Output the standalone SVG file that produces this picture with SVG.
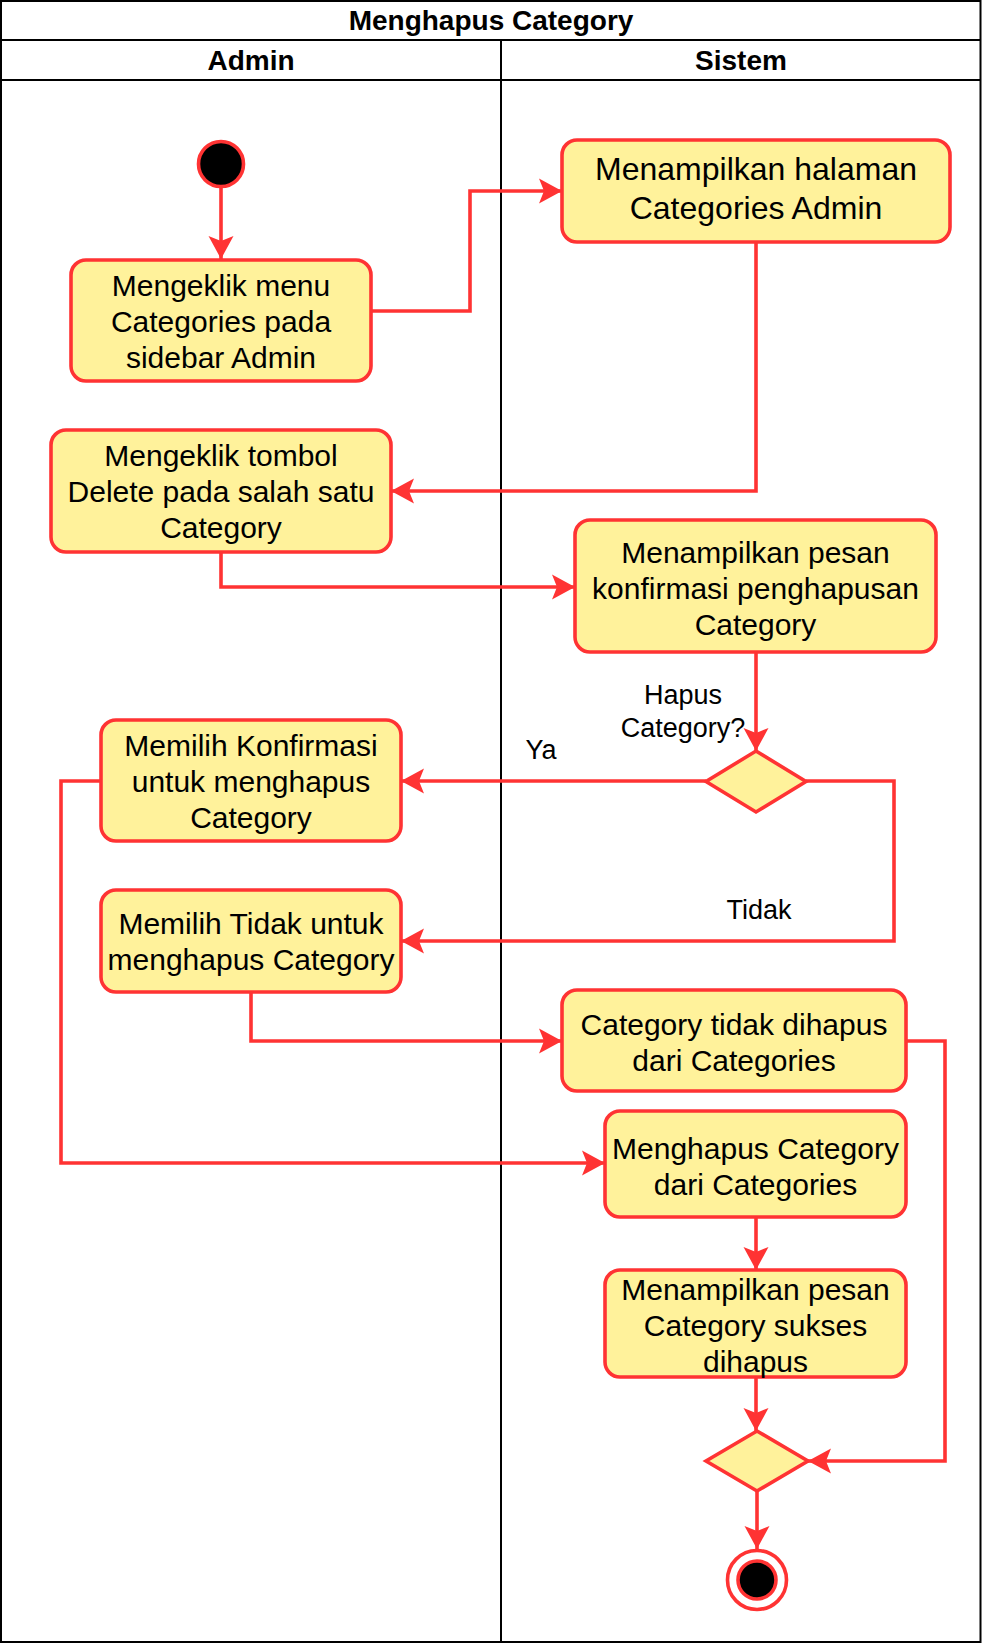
<svg xmlns="http://www.w3.org/2000/svg" width="982" height="1644" viewBox="0 0 982 1644">
<style>
.lane{fill:none;stroke:#000;stroke-width:2}
.hdr{font-family:"Liberation Sans",Arial,sans-serif;font-weight:bold;font-size:28px;text-anchor:middle;fill:#000}
.box{fill:#FFF29B;stroke:#FF3333;stroke-width:3.6}
.t{font-family:"Liberation Sans",Arial,sans-serif;font-size:30px;text-anchor:middle;fill:#000}
.t2{font-family:"Liberation Sans",Arial,sans-serif;font-size:32px;text-anchor:middle;fill:#000}
.lbl{font-family:"Liberation Sans",Arial,sans-serif;font-size:27px;text-anchor:middle;fill:#000}
.c{fill:none;stroke:#FF3333;stroke-width:3.6}
</style>
<defs>
<marker id="arr" markerUnits="userSpaceOnUse" viewBox="-24 -13 25 26" refX="0" refY="0" markerWidth="25" markerHeight="26" orient="auto">
<path d="M0,0 L-23,-12.5 L-18,0 L-23,12.5 Z" fill="#FF3333"/>
</marker>
</defs>
<rect width="982" height="1644" fill="#fff"/>
<g id="pool">
<rect class="lane" x="1" y="1" width="979.5" height="1641"/>
<line class="lane" x1="1" y1="40" x2="980.5" y2="40"/>
<line class="lane" x1="1" y1="80" x2="980.5" y2="80"/>
<line class="lane" x1="501" y1="40" x2="501" y2="1642"/>
<text class="hdr" x="491" y="30">Menghapus Category</text>
<text class="hdr" x="251" y="70">Admin</text>
<text class="hdr" x="741" y="70">Sistem</text>
</g>
<g id="connectors">
<path class="c" d="M221,188 L221,259" marker-end="url(#arr)"/>
<path class="c" d="M371,311 L470,311 L470,191 L562,191" marker-end="url(#arr)"/>
<path class="c" d="M756,242 L756,491 L391,491" marker-end="url(#arr)"/>
<path class="c" d="M221,552 L221,587 L575,587" marker-end="url(#arr)"/>
<path class="c" d="M756,652 L756,751" marker-end="url(#arr)"/>
<path class="c" d="M706,781 L401,781" marker-end="url(#arr)"/>
<path class="c" d="M806,781 L894,781 L894,941 L401,941" marker-end="url(#arr)"/>
<path class="c" d="M101,781 L61,781 L61,1163 L605,1163" marker-end="url(#arr)"/>
<path class="c" d="M251,992 L251,1041 L562,1041" marker-end="url(#arr)"/>
<path class="c" d="M906,1041 L945,1041 L945,1461 L808,1461" marker-end="url(#arr)"/>
<path class="c" d="M756,1217 L756,1270" marker-end="url(#arr)"/>
<path class="c" d="M756,1377 L756,1431" marker-end="url(#arr)"/>
<path class="c" d="M757,1491 L757,1549" marker-end="url(#arr)"/>
<text class="lbl" x="683" y="704">Hapus</text>
<text class="lbl" x="683" y="737">Category?</text>
<text class="lbl" x="541" y="759">Ya</text>
<text class="lbl" x="759" y="919">Tidak</text>
</g>
<g id="start">
<circle cx="221" cy="164" r="22.5" fill="#000" stroke="#FF3333" stroke-width="3.6"/>
</g>
<g id="n1">
<rect class="box" x="71" y="260" width="300" height="121" rx="15"/>
<text class="t" x="221" y="296">Mengeklik menu</text>
<text class="t" x="221" y="332">Categories pada</text>
<text class="t" x="221" y="368">sidebar Admin</text>
</g>
<g id="n2">
<rect class="box" x="562" y="140" width="388" height="102" rx="15"/>
<text class="t2" x="756" y="180">Menampilkan halaman</text>
<text class="t2" x="756" y="219">Categories Admin</text>
</g>
<g id="n3">
<rect class="box" x="51" y="430" width="340" height="122" rx="15"/>
<text class="t" x="221" y="466">Mengeklik tombol</text>
<text class="t" x="221" y="502">Delete pada salah satu</text>
<text class="t" x="221" y="538">Category</text>
</g>
<g id="n4">
<rect class="box" x="575" y="520" width="361" height="132" rx="15"/>
<text class="t" x="755.5" y="563">Menampilkan pesan</text>
<text class="t" x="755.5" y="599">konfirmasi penghapusan</text>
<text class="t" x="755.5" y="635">Category</text>
</g>
<g id="d1">
<path d="M756,751 L806,781.5 L756,812 L706,781.5 Z" fill="#FFF29B" stroke="#FF3333" stroke-width="3.6"/>
</g>
<g id="n5">
<rect class="box" x="101" y="720" width="300" height="121" rx="15"/>
<text class="t" x="251" y="756">Memilih Konfirmasi</text>
<text class="t" x="251" y="792">untuk menghapus</text>
<text class="t" x="251" y="828">Category</text>
</g>
<g id="n6">
<rect class="box" x="101" y="890" width="300" height="102" rx="15"/>
<text class="t" x="251" y="934">Memilih Tidak untuk</text>
<text class="t" x="251" y="970">menghapus Category</text>
</g>
<g id="n7">
<rect class="box" x="562" y="990" width="344" height="101" rx="15"/>
<text class="t" x="734" y="1035">Category tidak dihapus</text>
<text class="t" x="734" y="1071">dari Categories</text>
</g>
<g id="n8">
<rect class="box" x="605" y="1111" width="301" height="106" rx="15"/>
<text class="t" x="755.5" y="1159">Menghapus Category</text>
<text class="t" x="755.5" y="1195">dari Categories</text>
</g>
<g id="n9">
<rect class="box" x="605" y="1270" width="301" height="107" rx="15"/>
<text class="t" x="755.5" y="1300">Menampilkan pesan</text>
<text class="t" x="755.5" y="1336">Category sukses</text>
<text class="t" x="755.5" y="1372">dihapus</text>
</g>
<g id="d2">
<path d="M757,1431 L808,1461 L757,1491 L706,1461 Z" fill="#FFF29B" stroke="#FF3333" stroke-width="3.6"/>
</g>
<g id="end">
<circle cx="757" cy="1580" r="29.5" fill="none" stroke="#FF3333" stroke-width="3.6"/>
<circle cx="757" cy="1580" r="19" fill="#000" stroke="#FF3333" stroke-width="3.6"/>
</g>
</svg>
